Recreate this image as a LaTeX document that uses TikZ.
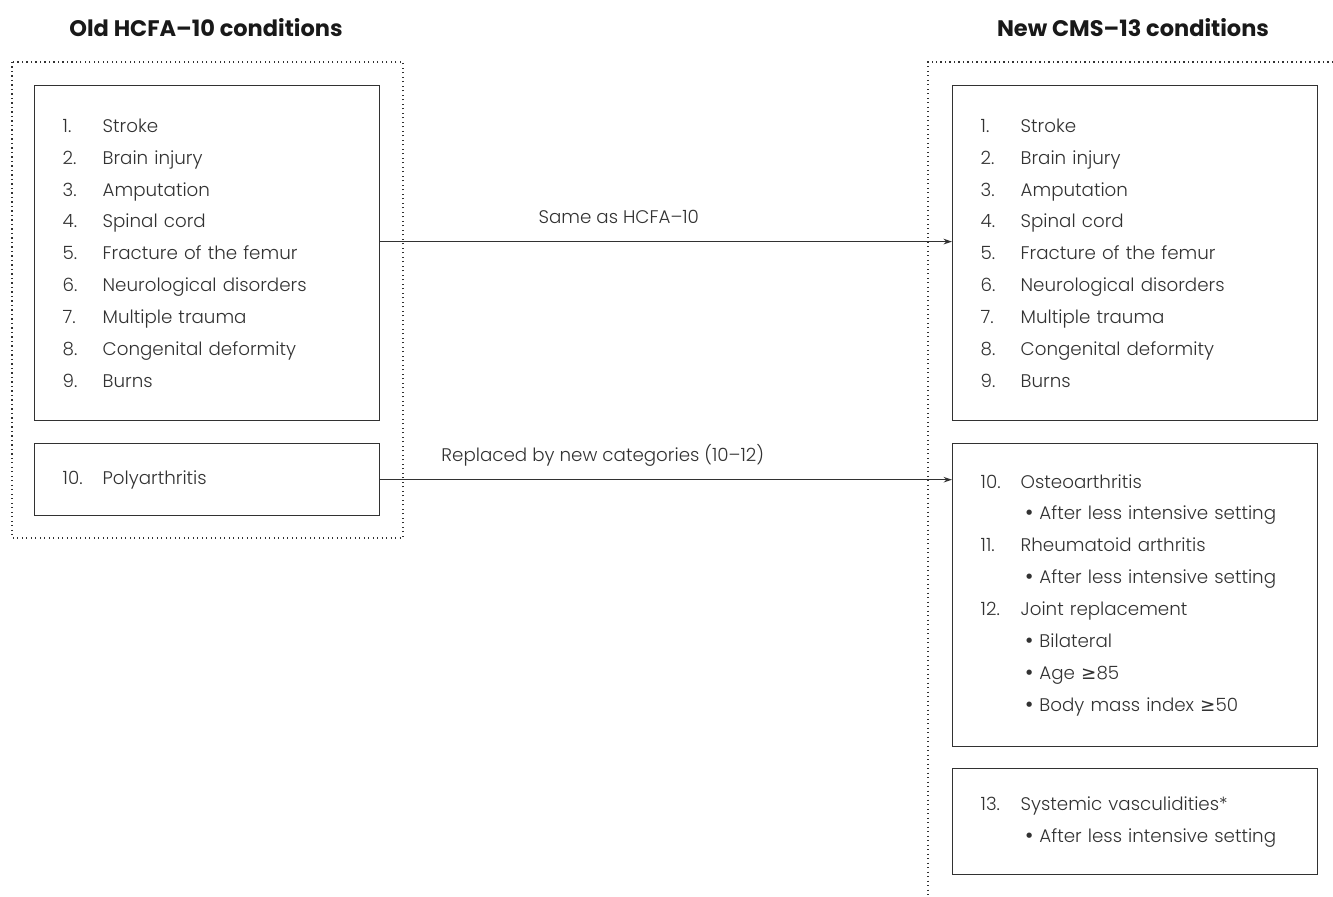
\documentclass[tikz,border=0pt]{standalone}
\usepackage{fontspec}
\setmainfont{Poppins Light}[BoldFont={Poppins Bold}]
\newfontfamily\symfont{DejaVu Sans}
\usepackage{tikz}
\usetikzlibrary{arrows.meta}
\definecolor{inkgray}{RGB}{50, 50, 50}

\newcommand{\condition}[2]{\makebox[1.0cm][l]{#1}#2}
\newcommand{\subcond}[1]{\hspace*{1.08cm}{\symfont •}\hspace{0.12cm}#1}

\tikzset{
  condbox/.style={draw=inkgray, line width=1pt, anchor=north west, align=left,
    inner xsep=0.7cm, text=inkgray, font=\fontsize{13}{22.7}\selectfont},
  frame/.style={draw=inkgray, line width=0.8pt, dash pattern=on 0.8pt off 2.4pt},
  heading/.style={font=\fontsize{16}{19}\selectfont\bfseries, text=black!90},
  link/.style={draw=inkgray, line width=0.9pt, -{Stealth[length=6pt,width=4pt]}},
  linklabel/.style={anchor=base, yshift=.46cm, text=inkgray, font=\fontsize{13}{16}\selectfont}
}

\begin{document}
\begin{tikzpicture}
\useasboundingbox (0,0) rectangle (33.325,22.425);

% Headings
\node[heading] (oldtitle) at (5.15,21.725) {Old HCFA--10 conditions};
\node[heading] (newtitle) at (28.325,21.725) {New CMS--13 conditions};

% Dotted frames
\draw[frame] (0.3,20.875) rectangle (10.075,8.975);
\draw[frame] (33.325,20.875) -- (23.2,20.875) -- (23.2,0);

% Old conditions
\node[condbox, text width=7.225cm, minimum height=8.375cm] (old1) at (0.85,20.3) {%
  \condition{1.}{Stroke}\\
  \condition{2.}{Brain injury}\\
  \condition{3.}{Amputation}\\
  \condition{4.}{Spinal cord}\\
  \condition{5.}{Fracture of the femur}\\
  \condition{6.}{Neurological disorders}\\
  \condition{7.}{Multiple trauma}\\
  \condition{8.}{Congenital deformity}\\
  \condition{9.}{Burns}};
\node[condbox, text width=7.225cm, minimum height=1.8cm] (old2) at (0.85,11.35) {%
  \condition{10.}{Polyarthritis}};

% New conditions
\node[condbox, text width=7.725cm, minimum height=8.375cm] (new1) at (23.8,20.3) {%
  \condition{1.}{Stroke}\\
  \condition{2.}{Brain injury}\\
  \condition{3.}{Amputation}\\
  \condition{4.}{Spinal cord}\\
  \condition{5.}{Fracture of the femur}\\
  \condition{6.}{Neurological disorders}\\
  \condition{7.}{Multiple trauma}\\
  \condition{8.}{Congenital deformity}\\
  \condition{9.}{Burns}};
\node[condbox, text width=7.725cm, minimum height=7.575cm] (new2) at (23.8,11.35) {%
  \condition{10.}{Osteoarthritis}\\
  \subcond{After less intensive setting}\\
  \condition{11.}{Rheumatoid arthritis}\\
  \subcond{After less intensive setting}\\
  \condition{12.}{Joint replacement}\\
  \subcond{Bilateral}\\
  \subcond{Age {\symfont ≥}85}\\
  \subcond{Body mass index {\symfont ≥}50}};
\node[condbox, text width=7.725cm, minimum height=2.65cm] (new3) at (23.8,3.225) {%
  \condition{13.}{Systemic vasculidities*}\\
  \subcond{After less intensive setting}};

% Arrows
\draw[link] ([yshift=.29cm]old1.east) -- node[linklabel, pos=.417] {Same as HCFA--10} ([yshift=.29cm]new1.west);
\draw[link] (old2.east) -- node[linklabel, pos=.389] {Replaced by new categories (10--12)} (old2.east -| new2.west);
\end{tikzpicture}
\end{document}
